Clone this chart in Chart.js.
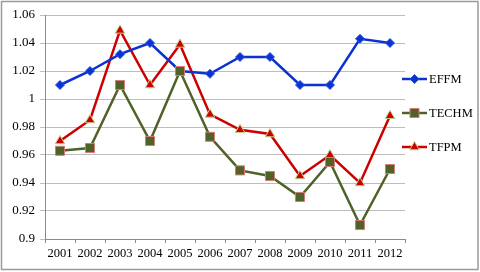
<!DOCTYPE html>
<html>
<head>
<meta charset="utf-8">
<script src="https://cdn.jsdelivr.net/npm/chart.js@4.4.0/dist/chart.umd.min.js"></script>
<style>
  html, body { margin: 0; padding: 0; background: #fff; }
  #wrap { position: relative; width: 480px; height: 272px; }
</style>
</head>
<body>
<div id="wrap"><canvas id="chart" width="480" height="272"></canvas></div>
<script>
// Data
const years = ['2001', '2002', '2003', '2004', '2005', '2006', '2007', '2008', '2009', '2010', '2011', '2012'];
const effm  = [1.010, 1.020, 1.032, 1.040, 1.020, 1.018, 1.030, 1.030, 1.010, 1.010, 1.043, 1.040];
const techm = [0.963, 0.965, 1.010, 0.970, 1.020, 0.973, 0.949, 0.945, 0.930, 0.955, 0.910, 0.950];
const tfpm  = [0.970, 0.985, 1.049, 1.010, 1.039, 0.989, 0.978, 0.975, 0.945, 0.960, 0.940, 0.988];

const FONT = '"Liberation Serif", "Times New Roman", serif';

const series = [
    { label: 'EFFM', data: effm, line: '#0a33d0', fill: '#0a33d0', edge: '#2a50e0', style: 'rectRot', radius: 4.5, order: 1 },
    { label: 'TECHM', data: techm, line: '#4f6228', fill: '#4f6228', edge: '#d77b78', style: 'rect', radius: 6.4, order: 0 },
    { label: 'TFPM', data: tfpm, line: '#cc0000', fill: '#cc0000', edge: '#bcd488', style: 'triangle', radius: 5.5, order: 2 }
];

// outer frame + legend with line-through-marker samples
const framePlugin = {
    id: 'frame',
    afterDraw(chart) {
        const c = chart.ctx;
        c.save();
        c.strokeStyle = '#9a9a9a';
        c.lineWidth = 1.5;
        c.strokeRect(1.5, 1.5, 476.5, 268);

        const ys = [79, 113, 147];
        series.forEach((s, i) => {
            const y = ys[i];
            c.strokeStyle = s.line;
            c.lineWidth = 2.5;
            c.beginPath();
            c.moveTo(402, y);
            c.lineTo(427, y);
            c.stroke();
            c.fillStyle = s.fill;
            c.strokeStyle = s.edge;
            c.lineWidth = 1;
            Chart.helpers.drawPoint(c, { pointStyle: s.style, radius: s.radius, borderWidth: 1 }, 414.5, y);
            c.fillStyle = '#000';
            c.font = '12.5px ' + FONT;
            c.textBaseline = 'middle';
            c.fillText(s.label, 429, y + 0.5);
        });
        c.restore();
    }
};

new Chart(document.getElementById('chart').getContext('2d'), {
    type: 'line',
    data: {
        labels: years,
        datasets: series.map(s => ({
            label: s.label,
            data: s.data,
            borderColor: s.line,
            borderWidth: 2.5,
            pointStyle: s.style,
            pointRadius: s.radius,
            pointBackgroundColor: s.fill,
            pointBorderColor: s.edge,
            pointBorderWidth: 1,
            tension: 0,
            order: s.order
        }))
    },
    options: {
        responsive: false,
        animation: false,
        layout: { padding: { top: 15, right: 75, left: 0, bottom: 0 } },
        plugins: { legend: { display: false }, tooltip: { enabled: false } },
        scales: {
            x: {
                offset: true,
                grid: { offset: true, drawOnChartArea: false, tickLength: 4, color: '#8c8c8c' },
                border: { color: '#8c8c8c' },
                ticks: { color: '#000', font: { family: FONT, size: 12.5 }, maxRotation: 0, autoSkip: false, padding: 3 },
                afterFit: s => { s.height = 33; }
            },
            y: {
                min: 0.9,
                max: 1.06,
                grid: { color: '#bdbdbd', tickLength: 5, lineWidth: 1 },
                border: { color: '#8c8c8c' },
                ticks: {
                    stepSize: 0.02,
                    color: '#000',
                    font: { family: FONT, size: 13 },
                    padding: 5,
                    callback: v => String(parseFloat(v.toFixed(2)))
                },
                afterFit: s => { s.width = 45; }
            }
        }
    },
    plugins: [framePlugin]
});
</script>
</body>
</html>
